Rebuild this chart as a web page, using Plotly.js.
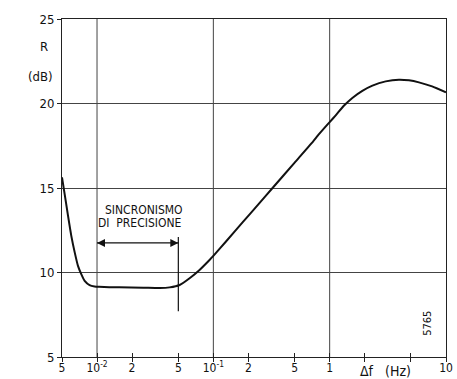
<!DOCTYPE html>
<html>
<head>
<meta charset="utf-8">
<script src="https://cdn.plot.ly/plotly-3.0.1.min.js"></script>
<style>html,body{margin:0;padding:0;background:#fff;}#chart{width:457px;height:379px;}</style>
</head>
<body>
<div id="chart"></div>
<script>
// Curve: R (dB) versus frequency offset Δf (Hz)
const freqHz = [0.005, 0.00527, 0.00563, 0.00601, 0.00643, 0.00686, 0.00732, 0.00783, 0.00863, 0.00953, 0.0104, 0.0155, 0.025, 0.0346, 0.0421, 0.0513, 0.0625, 0.0761, 0.0927, 0.1, 0.129, 0.179, 0.25, 0.32, 0.5, 0.7, 0.813, 1, 1.127, 1.33, 1.566, 1.91, 2.33, 3.03, 3.94, 4.8, 5.85, 7.6, 10];
const rDb    = [15.63, 14.64, 13.36, 12.17, 11.19, 10.39, 9.90, 9.50, 9.25, 9.17, 9.15, 9.12, 9.10, 9.08, 9.12, 9.26, 9.66, 10.15, 10.74, 10.98, 11.85, 12.98, 14.12, 14.97, 16.5, 17.65, 18.2, 18.9, 19.3, 19.88, 20.33, 20.75, 21.06, 21.31, 21.41, 21.37, 21.25, 21.01, 20.66];

// Axis ticks
const xTickVals = [0.005, 0.01, 0.02, 0.05, 0.1, 0.2, 0.5, 1, 2, 5, 10];
const xLabelVals = [0.005, 0.01, 0.02, 0.05, 0.1, 0.2, 0.5, 1, 10];
const xLabelText = ["5", "10<sup>-2</sup>", "2", "5", "10<sup>-1</sup>", "2", "5", "1", "10"];
const xGridVals = [0.01, 0.1, 1];
const yTickVals = [5, 10, 15, 20, 25];

// Bracket "sincronismo di precisione"
const bracketX = [0.01, 0.05];
const bracketY = 11.75;
const bracketBottom = 7.7;
const bracketTop = 12.1;

const FONT = "DejaVu Sans Condensed, Liberation Sans Narrow, Liberation Sans, Arial, sans-serif";
const INK = '#111';

const traces = [
  {x: freqHz, y: rDb, type: 'scatter', mode: 'lines', line: {color: INK, width: 2, shape: 'spline', smoothing: 0.5}, hoverinfo: 'skip'},
  {x: [bracketX[1], bracketX[1]], y: [bracketBottom, bracketTop], type: 'scatter', mode: 'lines', line: {color: INK, width: 1.2}, hoverinfo: 'skip'},
  {x: bracketX, y: [bracketY, bracketY], type: 'scatter', mode: 'lines+markers', line: {color: INK, width: 1.2},
   marker: {symbol: ['arrow-left', 'arrow-right'], size: 8, color: INK, line: {width: 0}}, hoverinfo: 'skip'},
  {x: [bracketX[0]], y: [bracketY], xaxis: 'x2', type: 'scatter', mode: 'none', hoverinfo: 'skip'},
  {x: [bracketX[0]], y: [bracketY], xaxis: 'x3', type: 'scatter', mode: 'none', hoverinfo: 'skip'}
];

const shapes = xGridVals.map(v => ({type: 'line', xref: 'x', yref: 'paper', x0: v, x1: v, y0: 0, y1: 1, line: {color: '#444', width: 1}, layer: 'below'}));

const ann = (x, y, text, size, extra) => Object.assign({xref: 'paper', yref: 'paper', x: x, y: y, text: text, showarrow: false, xanchor: 'center', yanchor: 'middle', font: {size: size, color: INK, family: FONT}}, extra || {});

const annotations = [
  ann(-0.047, 0.92, 'R', 13),
  ann(-0.057, 0.831, '(dB)', 13),
  ann(0.843, -0.042, 'Δf&nbsp;&nbsp;&nbsp;(Hz)', 14),
  ann(0.953, 0.101, '5765', 11, {textangle: -90}),
  {xref: 'x', yref: 'y', x: Math.log10(0.0252), y: 13.7, text: 'SINCRONISMO', showarrow: false, xanchor: 'center', yanchor: 'middle', font: {size: 12, color: INK, family: FONT}},
  {xref: 'x', yref: 'y', x: Math.log10(0.0233), y: 12.93, text: 'DI&nbsp;&nbsp;PRECISIONE', showarrow: false, xanchor: 'center', yanchor: 'middle', font: {size: 12, color: INK, family: FONT}}
];

const xRange = [Math.log10(0.005), 1];
const layout = {
  width: 457, height: 379,
  margin: {l: 62, r: 11, t: 19, b: 22},
  paper_bgcolor: '#fff', plot_bgcolor: '#fff',
  showlegend: false,
  font: {family: FONT, color: INK, size: 12},
  xaxis: {
    type: 'log', range: xRange,
    tickmode: 'array', tickvals: xLabelVals, ticktext: xLabelText,
    showgrid: false, zeroline: false,
    showline: true, linecolor: '#222', linewidth: 1, mirror: true,
    ticks: '',
    tickfont: {size: 12, family: FONT, color: INK}
  },
  xaxis2: {
    type: 'log', range: xRange, overlaying: 'x', side: 'bottom',
    tickmode: 'array', tickvals: xTickVals,
    showticklabels: false, showgrid: false, zeroline: false, showline: false,
    ticks: 'outside', ticklen: 4, tickcolor: '#222', tickwidth: 1
  },
  xaxis3: {
    type: 'log', range: xRange, overlaying: 'x', side: 'bottom',
    tickmode: 'array', tickvals: xTickVals.slice(1),
    showticklabels: false, showgrid: false, zeroline: false, showline: false,
    ticks: 'inside', ticklen: 4, tickcolor: '#222', tickwidth: 1
  },
  yaxis: {
    range: [5, 25], tickmode: 'array', tickvals: yTickVals,
    showgrid: true, gridcolor: '#444', gridwidth: 1, zeroline: false,
    showline: true, linecolor: '#222', linewidth: 1, mirror: true,
    ticks: 'outside', ticklen: 4, tickcolor: '#222',
    tickfont: {size: 13, family: FONT, color: INK}
  },
  shapes: shapes,
  annotations: annotations
};

Plotly.newPlot('chart', traces, layout, {staticPlot: true, displayModeBar: false});
</script>
</body>
</html>
